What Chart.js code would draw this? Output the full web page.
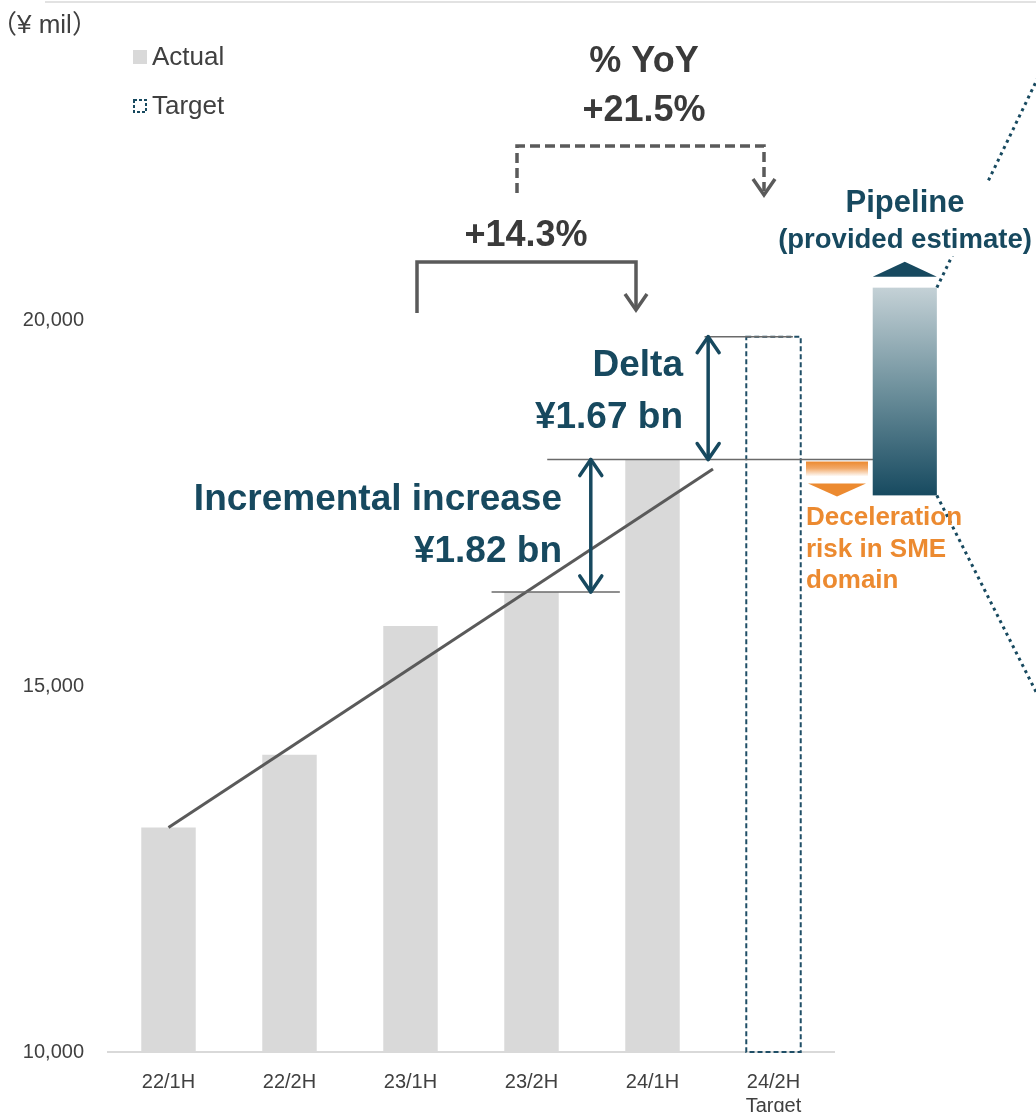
<!DOCTYPE html>
<html lang="en">
<head>
  <meta charset="UTF-8">
  <title>Revenue vs target</title>
  <style>
    body {
      margin: 0;
      background-color: #ffffff;
    }
    #wrap {
      width: 1036px;
      height: 1112px;
    }
  </style>
</head>
<body>
  <div id="wrap">
    <canvas id="myChart" width="1036" height="1112"></canvas>
  </div>
  <script src="https://cdn.jsdelivr.net/npm/chart.js@4.4.0/dist/chart.umd.min.js"></script>
  <script>
    // data (¥ mil)
    const periods = [['22/1H'], ['22/2H'], ['23/1H'], ['23/2H'], ['24/1H'], ['24/2H', 'Target']]
    const actual = [13070, 14065, 15825, 16290, 18100, null]
    const target = [null, null, null, null, null, 19780]
    const pipeline = [17610, 20450]       // low / high of the provided estimate
    const trendIdx = [0, 4.5]
    const trendVal = [13070, 17970]
    const yTicks = [10000, 15000, 20000]

    const FONT = "'Liberation Sans', Arial, 'Noto Sans CJK JP', sans-serif"
    const TEAL = '#17495f'
    const GREY = '#5a5a5a'
    const TXT = '#3a3a3a'
    const ORANGE = '#ec8a30'

    const text = (ctx, str, x, y, size, color, align, bold) => {
      ctx.font = (bold ? 'bold ' : '') + size + 'px ' + FONT
      ctx.fillStyle = color
      ctx.textAlign = align
      ctx.textBaseline = 'middle'
      ctx.fillText(str, x, y)
    }

    const chevron = (ctx, x, y, dir, hw, h) => {
      ctx.beginPath()
      ctx.moveTo(x - hw, y - dir * h)
      ctx.lineTo(x, y)
      ctx.lineTo(x + hw, y - dir * h)
      ctx.stroke()
    }

    const doubleArrow = (ctx, x, y1, y2) => {
      ctx.save()
      ctx.strokeStyle = TEAL
      ctx.lineWidth = 3.5
      ctx.lineCap = 'round'
      ctx.lineJoin = 'round'
      ctx.beginPath()
      ctx.moveTo(x, y1)
      ctx.lineTo(x, y2)
      ctx.stroke()
      chevron(ctx, x, y1, -1, 11, 16)
      chevron(ctx, x, y2, 1, 11, 16)
      ctx.restore()
    }

    const hline = (ctx, x1, x2, y) => {
      ctx.save()
      ctx.strokeStyle = '#6a6a6a'
      ctx.lineWidth = 1.5
      ctx.beginPath()
      ctx.moveTo(x1, y)
      ctx.lineTo(x2, y)
      ctx.stroke()
      ctx.restore()
    }

    const bracket = (ctx, xa, ya, top, xb, yb, dashed) => {
      ctx.save()
      ctx.strokeStyle = GREY
      ctx.lineWidth = 3.5
      if (dashed) ctx.setLineDash([10, 5])
      ctx.beginPath()
      ctx.moveTo(xa, ya)
      ctx.lineTo(xa, top)
      ctx.lineTo(xb, top)
      ctx.lineTo(xb, yb - (dashed ? 4 : 0))
      ctx.stroke()
      ctx.setLineDash([])
      chevron(ctx, xb, yb, 1, 11, 16)
      ctx.restore()
    }

    const slidePlugin = {
      id: 'slide',
      afterDatasetsDraw(chart) {
        const ctx = chart.ctx
        const xs = chart.scales.x
        const ys = chart.scales.y
        const area = chart.chartArea
        const px = i => xs.getPixelForValue(i)
        const py = v => ys.getPixelForValue(v)

        // top divider of the slide
        ctx.save()
        ctx.strokeStyle = '#d9d9d9'
        ctx.lineWidth = 1.5
        ctx.beginPath()
        ctx.moveTo(45, 2)
        ctx.lineTo(1036, 2)
        ctx.stroke()
        ctx.restore()

        // dotted zoom lines from the pipeline bar (masked behind its title)
        const pL = px(5.82), pR = px(6.35)
        const pTop = py(pipeline[1]), pBot = py(pipeline[0])
        ctx.save()
        ctx.strokeStyle = TEAL
        ctx.lineWidth = 3
        ctx.setLineDash([3, 4])
        ctx.beginPath()
        ctx.moveTo(pR, pTop)
        ctx.lineTo(pR + 104, pTop - 216)
        ctx.moveTo(pR, pBot)
        ctx.lineTo(pR + 104, pBot + 206)
        ctx.stroke()
        ctx.restore()
        ctx.fillStyle = '#ffffff'
        ctx.fillRect(780, 183, 256, 73)

        // target bar: dashed outline down to the axis
        const tEl = chart.getDatasetMeta(1).data[5]
        ctx.save()
        ctx.strokeStyle = '#1f4e66'
        ctx.lineWidth = 2
        ctx.setLineDash([5, 3])
        ctx.strokeRect(tEl.x - tEl.width / 2, tEl.y, tEl.width, area.bottom - tEl.y)
        ctx.restore()

        // trend line
        ctx.save()
        ctx.strokeStyle = GREY
        ctx.lineWidth = 3
        ctx.beginPath()
        ctx.moveTo(px(trendIdx[0]), py(trendVal[0]))
        ctx.lineTo(px(trendIdx[1]), py(trendVal[1]))
        ctx.stroke()
        ctx.restore()

        // reference lines
        hline(ctx, px(4.43), px(5.16), py(target[5]))
        hline(ctx, px(3.13), px(5.86), py(actual[4]))
        hline(ctx, px(2.67), px(3.73), py(actual[3]))

        // delta arrows
        doubleArrow(ctx, px(4.46), py(target[5]), py(actual[4]))
        doubleArrow(ctx, px(3.49), py(actual[4]), py(actual[3]))

        // YoY brackets
        bracket(ctx, 417, 313, 262, 636, 310, false)
        bracket(ctx, 517, 193, 146, 764, 195, true)

        // pipeline bar
        const grad = ctx.createLinearGradient(0, pTop, 0, pBot)
        grad.addColorStop(0, '#c4d1d6')
        grad.addColorStop(0.5, '#6c8f9b')
        grad.addColorStop(1, '#174a60')
        ctx.fillStyle = grad
        ctx.fillRect(pL, pTop, pR - pL, pBot - pTop)
        ctx.fillStyle = TEAL
        ctx.beginPath()
        ctx.moveTo(pL, pTop - 11)
        ctx.lineTo((pL + pR) / 2, pTop - 26)
        ctx.lineTo(pR, pTop - 11)
        ctx.closePath()
        ctx.fill()

        // deceleration risk marker
        const dTop = py(actual[4]) + 2
        const og = ctx.createLinearGradient(0, dTop, 0, dTop + 15)
        og.addColorStop(0, ORANGE)
        og.addColorStop(0.45, '#f2a968')
        og.addColorStop(1, '#ffffff')
        ctx.fillStyle = og
        ctx.fillRect(806, dTop, 62, 15)
        ctx.fillStyle = ORANGE
        ctx.beginPath()
        ctx.moveTo(808, dTop + 22)
        ctx.lineTo(866, dTop + 22)
        ctx.lineTo(837, dTop + 35)
        ctx.closePath()
        ctx.fill()

        // texts
        text(ctx, '（¥ mil）', -9, 26, 26, '#404040', 'left', false)
        ctx.fillStyle = '#d9d9d9'
        ctx.fillRect(133, 50, 14, 14)
        text(ctx, chart.data.datasets[0].label, 152, 58, 26, '#404040', 'left', false)
        ctx.save()
        ctx.strokeStyle = TEAL
        ctx.lineWidth = 2
        ctx.setLineDash([3, 2])
        ctx.strokeRect(134, 100, 12, 12)
        ctx.restore()
        text(ctx, chart.data.datasets[1].label, 152, 107, 26, '#404040', 'left', false)

        text(ctx, '% YoY', 644, 62, 36, TXT, 'center', true)
        text(ctx, '+21.5%', 644, 111, 36, TXT, 'center', true)
        text(ctx, '+14.3%', 526, 236, 36, TXT, 'center', true)

        text(ctx, 'Delta', 683, 366, 37, TEAL, 'right', true)
        text(ctx, '¥1.67 bn', 683, 418, 37, TEAL, 'right', true)
        text(ctx, 'Incremental increase', 562, 500, 37, TEAL, 'right', true)
        text(ctx, '¥1.82 bn', 562, 552, 37, TEAL, 'right', true)

        text(ctx, 'Pipeline', 905, 203, 31, TEAL, 'center', true)
        text(ctx, '(provided estimate)', 905, 240, 27.5, TEAL, 'center', true)

        text(ctx, 'Deceleration', 806, 518, 26, ORANGE, 'left', true)
        text(ctx, 'risk in SME', 806, 550, 26, ORANGE, 'left', true)
        text(ctx, 'domain', 806, 581, 26, ORANGE, 'left', true)
      }
    }

    const ctx = document.getElementById('myChart').getContext('2d')
    const myChart = new Chart(ctx, {
      type: 'bar',
      data: {
        labels: periods,
        datasets: [{
          label: 'Actual',
          data: actual,
          backgroundColor: '#d9d9d9',
          grouped: false,
          barPercentage: 0.9,
          categoryPercentage: 0.5
        },
        {
          label: 'Target',
          data: target,
          backgroundColor: 'rgba(0,0,0,0)',
          borderWidth: 0,
          grouped: false,
          barPercentage: 0.9,
          categoryPercentage: 0.5
        }]
      },
      options: {
        responsive: false,
        animation: false,
        layout: { padding: { top: 17, right: 202, left: 0, bottom: 0 } },
        plugins: {
          legend: { display: false },
          tooltip: { enabled: false }
        },
        scales: {
          x: {
            grid: { display: false },
            border: { display: true, color: '#d9d9d9', width: 2 },
            ticks: {
              color: '#404040',
              font: { family: FONT, size: 20 },
              padding: 10,
              maxRotation: 0
            },
            afterFit: scale => { scale.height = 60 }
          },
          y: {
            min: 10000,
            max: 24000,
            grid: { display: false },
            border: { display: false },
            afterBuildTicks: scale => { scale.ticks = yTicks.map(v => ({ value: v })) },
            ticks: {
              color: '#404040',
              font: { family: FONT, size: 20 },
              padding: 16,
              callback: v => v.toLocaleString('en-US')
            },
            afterFit: scale => { scale.width = 108 }
          }
        }
      },
      plugins: [slidePlugin]
    })
  </script>
</body>
</html>
